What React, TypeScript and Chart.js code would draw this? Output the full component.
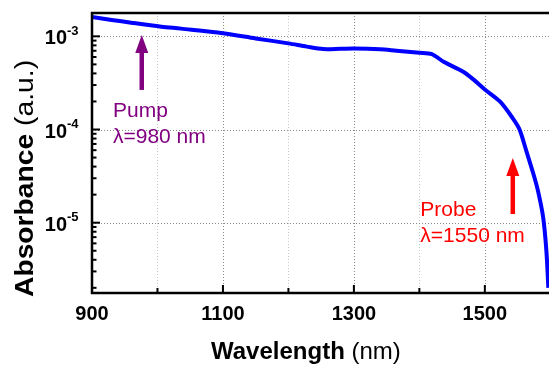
import React, { useEffect, useRef } from 'react';
import { Chart, registerables } from 'chart.js';

Chart.register(...registerables);

// ---- data ----
const wavelengths = [900, 930, 960, 1006, 1036, 1100, 1150, 1200, 1228, 1253, 1280, 1300, 1340, 1365, 1400, 1419, 1437, 1467, 1482, 1500, 1523, 1543, 1553, 1563, 1574, 1581, 1589, 1594, 1597];
const absorbance = [1.61e-3, 1.50e-3, 1.40e-3, 1.27e-3, 1.21e-3, 1.08e-3, 9.5e-4, 8.4e-4, 7.75e-4, 7.3e-4, 7.35e-4, 7.4e-4, 7.25e-4, 7.0e-4, 6.67e-4, 6.45e-4, 5.33e-4, 4.17e-4, 3.47e-4, 2.69e-4, 2.0e-4, 1.31e-4, 1.0e-4, 6.0e-5, 3.37e-5, 2.22e-5, 1.15e-5, 5.0e-6, 2.0e-6];

const xMajorTicks = [900, 1100, 1300, 1500];
const xMinorTicks = [1000, 1200, 1400];
const yDecadeExponents = [-3, -4, -5];

const X_MIN = 900;
const X_MAX = 1598;
const Y_MIN = 1.76e-6;
const Y_MAX = 1.78e-3;

const pumpLabel = ['Pump', '\u03BB=980 nm'];
const probeLabel = ['Probe', '\u03BB=1550 nm'];
// annotation anchors, in data units
const pumpArrow = { x: 976, tail: 2.66e-4, tip: 1.035e-3 };
const probeArrow = { x: 1542.7, tail: 1.24e-5, tip: 4.95e-5 };
const pumpText = { x: 932, lines: [1.36e-4, 7.2e-5] };
const probeText = { x: 1401.5, lines: [1.18e-5, 6.2e-6] };

const xTitleBold = 'Wavelength';
const xTitleRest = ' (nm)';
const yTitleBold = 'Absorbance';
const yTitleRest = ' (a.u.)';

const FONT = '"Liberation Sans", Arial, Helvetica, sans-serif';
const PURPLE = '#800080';
const RED = '#ff0000';

function drawArrow(ctx: CanvasRenderingContext2D, px: number, tailY: number, tipY: number, color: string) {
  const headLen = 18;
  const headHalf = 6.5;
  ctx.save();
  ctx.strokeStyle = color;
  ctx.fillStyle = color;
  ctx.lineWidth = 4.5;
  ctx.setLineDash([]);
  ctx.beginPath();
  ctx.moveTo(px, tailY);
  ctx.lineTo(px, tipY + headLen - 1);
  ctx.stroke();
  ctx.beginPath();
  ctx.moveTo(px, tipY);
  ctx.lineTo(px - headHalf, tipY + headLen);
  ctx.lineTo(px + headHalf, tipY + headLen);
  ctx.closePath();
  ctx.fill();
  ctx.restore();
}

const decorPlugin = {
  id: 'figureDecor',
  beforeDatasetsDraw(chart: any) {
    const { ctx, chartArea: a, scales } = chart;
    const x = scales.x;
    const y = scales.y;
    ctx.save();
    ctx.lineWidth = 1;
    ctx.setLineDash([1, 2]);
    [...xMajorTicks, ...xMinorTicks].forEach((v) => {
      if (v === X_MIN) return;
      const px = Math.round(x.getPixelForValue(v)) + 0.5;
      ctx.strokeStyle = xMajorTicks.includes(v) ? '#8a8a8a' : '#c6c6c6';
      ctx.beginPath();
      ctx.moveTo(px, a.top);
      ctx.lineTo(px, a.bottom);
      ctx.stroke();
    });
    yDecadeExponents.forEach((e) => {
      const py = Math.round(y.getPixelForValue(Math.pow(10, e))) + 0.5;
      ctx.strokeStyle = '#8a8a8a';
      ctx.beginPath();
      ctx.moveTo(a.left, py);
      ctx.lineTo(a.right, py);
      ctx.stroke();
    });
    ctx.restore();
  },
  afterDatasetsDraw(chart: any) {
    const { ctx, chartArea: a, scales } = chart;
    const x = scales.x;
    const y = scales.y;
    ctx.save();
    ctx.setLineDash([]);
    ctx.strokeStyle = '#000';
    ctx.lineWidth = 2.5;
    ctx.beginPath();
    ctx.moveTo(a.right + 2, a.top);
    ctx.lineTo(a.left, a.top);
    ctx.lineTo(a.left, a.bottom);
    ctx.lineTo(a.right + 2, a.bottom);
    ctx.stroke();

    // y ticks (inside)
    ctx.lineWidth = 2;
    for (let e = -7; e <= -3; e++) {
      for (let m = 1; m <= 9; m++) {
        const v = m * Math.pow(10, e);
        if (v < Y_MIN || v > Y_MAX) continue;
        const py = y.getPixelForValue(v);
        const len = m === 1 ? 8 : 4.5;
        ctx.beginPath();
        ctx.moveTo(a.left, py);
        ctx.lineTo(a.left + len, py);
        ctx.stroke();
      }
    }
    // x ticks (inside)
    [...xMajorTicks, ...xMinorTicks].forEach((v) => {
      const px = x.getPixelForValue(v);
      const len = xMajorTicks.includes(v) ? 8 : 5;
      ctx.beginPath();
      ctx.moveTo(px, a.bottom);
      ctx.lineTo(px, a.bottom - len);
      ctx.stroke();
    });

    // x tick labels
    ctx.fillStyle = '#000';
    ctx.font = `bold 20px ${FONT}`;
    ctx.textAlign = 'center';
    ctx.textBaseline = 'alphabetic';
    xMajorTicks.forEach((v) => {
      ctx.fillText(String(v), x.getPixelForValue(v), a.bottom + 27);
    });

    // y tick labels 10^e
    yDecadeExponents.forEach((e) => {
      const py = y.getPixelForValue(Math.pow(10, e));
      ctx.font = `bold 20px ${FONT}`;
      ctx.textAlign = 'right';
      ctx.fillText('10', 67, py + 8);
      ctx.font = `bold 13px ${FONT}`;
      ctx.textAlign = 'left';
      ctx.fillText(String(e), 67, py - 1.5);
    });

    // x title
    ctx.textAlign = 'left';
    ctx.font = `bold 24px ${FONT}`;
    const xt = 211;
    ctx.fillText(xTitleBold, xt, 359);
    const wb = ctx.measureText(xTitleBold).width;
    ctx.font = `24px ${FONT}`;
    ctx.fillText(xTitleRest, xt + wb, 359);

    // y title
    ctx.save();
    ctx.translate(33, 297);
    ctx.rotate(-Math.PI / 2);
    ctx.scale(1.13, 1);
    ctx.font = `bold 25px ${FONT}`;
    ctx.fillText(yTitleBold, 0, 0);
    const yb = ctx.measureText(yTitleBold).width;
    ctx.font = `25px ${FONT}`;
    ctx.fillText(yTitleRest, yb, 0);
    ctx.restore();

    // arrows
    drawArrow(ctx, x.getPixelForValue(pumpArrow.x), y.getPixelForValue(pumpArrow.tail), y.getPixelForValue(pumpArrow.tip), PURPLE);
    drawArrow(ctx, x.getPixelForValue(probeArrow.x), y.getPixelForValue(probeArrow.tail), y.getPixelForValue(probeArrow.tip), RED);

    // annotation text
    ctx.font = `21px ${FONT}`;
    ctx.textAlign = 'left';
    ctx.fillStyle = PURPLE;
    pumpLabel.forEach((t, i) => {
      ctx.fillText(t, x.getPixelForValue(pumpText.x), y.getPixelForValue(pumpText.lines[i]));
    });
    ctx.fillStyle = RED;
    probeLabel.forEach((t, i) => {
      ctx.fillText(t, x.getPixelForValue(probeText.x), y.getPixelForValue(probeText.lines[i]));
    });
    ctx.restore();
  },
};

export default function App() {
  const canvasRef = useRef<HTMLCanvasElement | null>(null);

  useEffect(() => {
    const canvas = canvasRef.current;
    if (!canvas) return;
    const chart = new Chart(canvas, {
      type: 'line',
      data: {
        labels: wavelengths,
        datasets: [
          {
            data: wavelengths.map((w, i) => ({ x: w, y: absorbance[i] })),
            borderColor: '#0000ff',
            borderWidth: 4,
            pointRadius: 0,
            fill: false,
            tension: 0.3,
          },
        ],
      },
      options: {
        animation: false,
        responsive: false,
        devicePixelRatio: 1,
        layout: { padding: { left: 92, top: 13, right: 0, bottom: 74 } },
        plugins: { legend: { display: false }, tooltip: { enabled: false }, title: { display: false } },
        scales: {
          x: { type: 'linear', min: X_MIN, max: X_MAX, display: false },
          y: { type: 'logarithmic', min: Y_MIN, max: Y_MAX, display: false },
        },
      },
      plugins: [decorPlugin],
    });
    return () => chart.destroy();
  }, []);

  return (
    <div style={{ position: 'absolute', left: 0, top: 0, width: 549, height: 367, background: '#fff' }}>
      <canvas ref={canvasRef} width={549} height={367} style={{ width: 549, height: 367, display: 'block' }} />
    </div>
  );
}
